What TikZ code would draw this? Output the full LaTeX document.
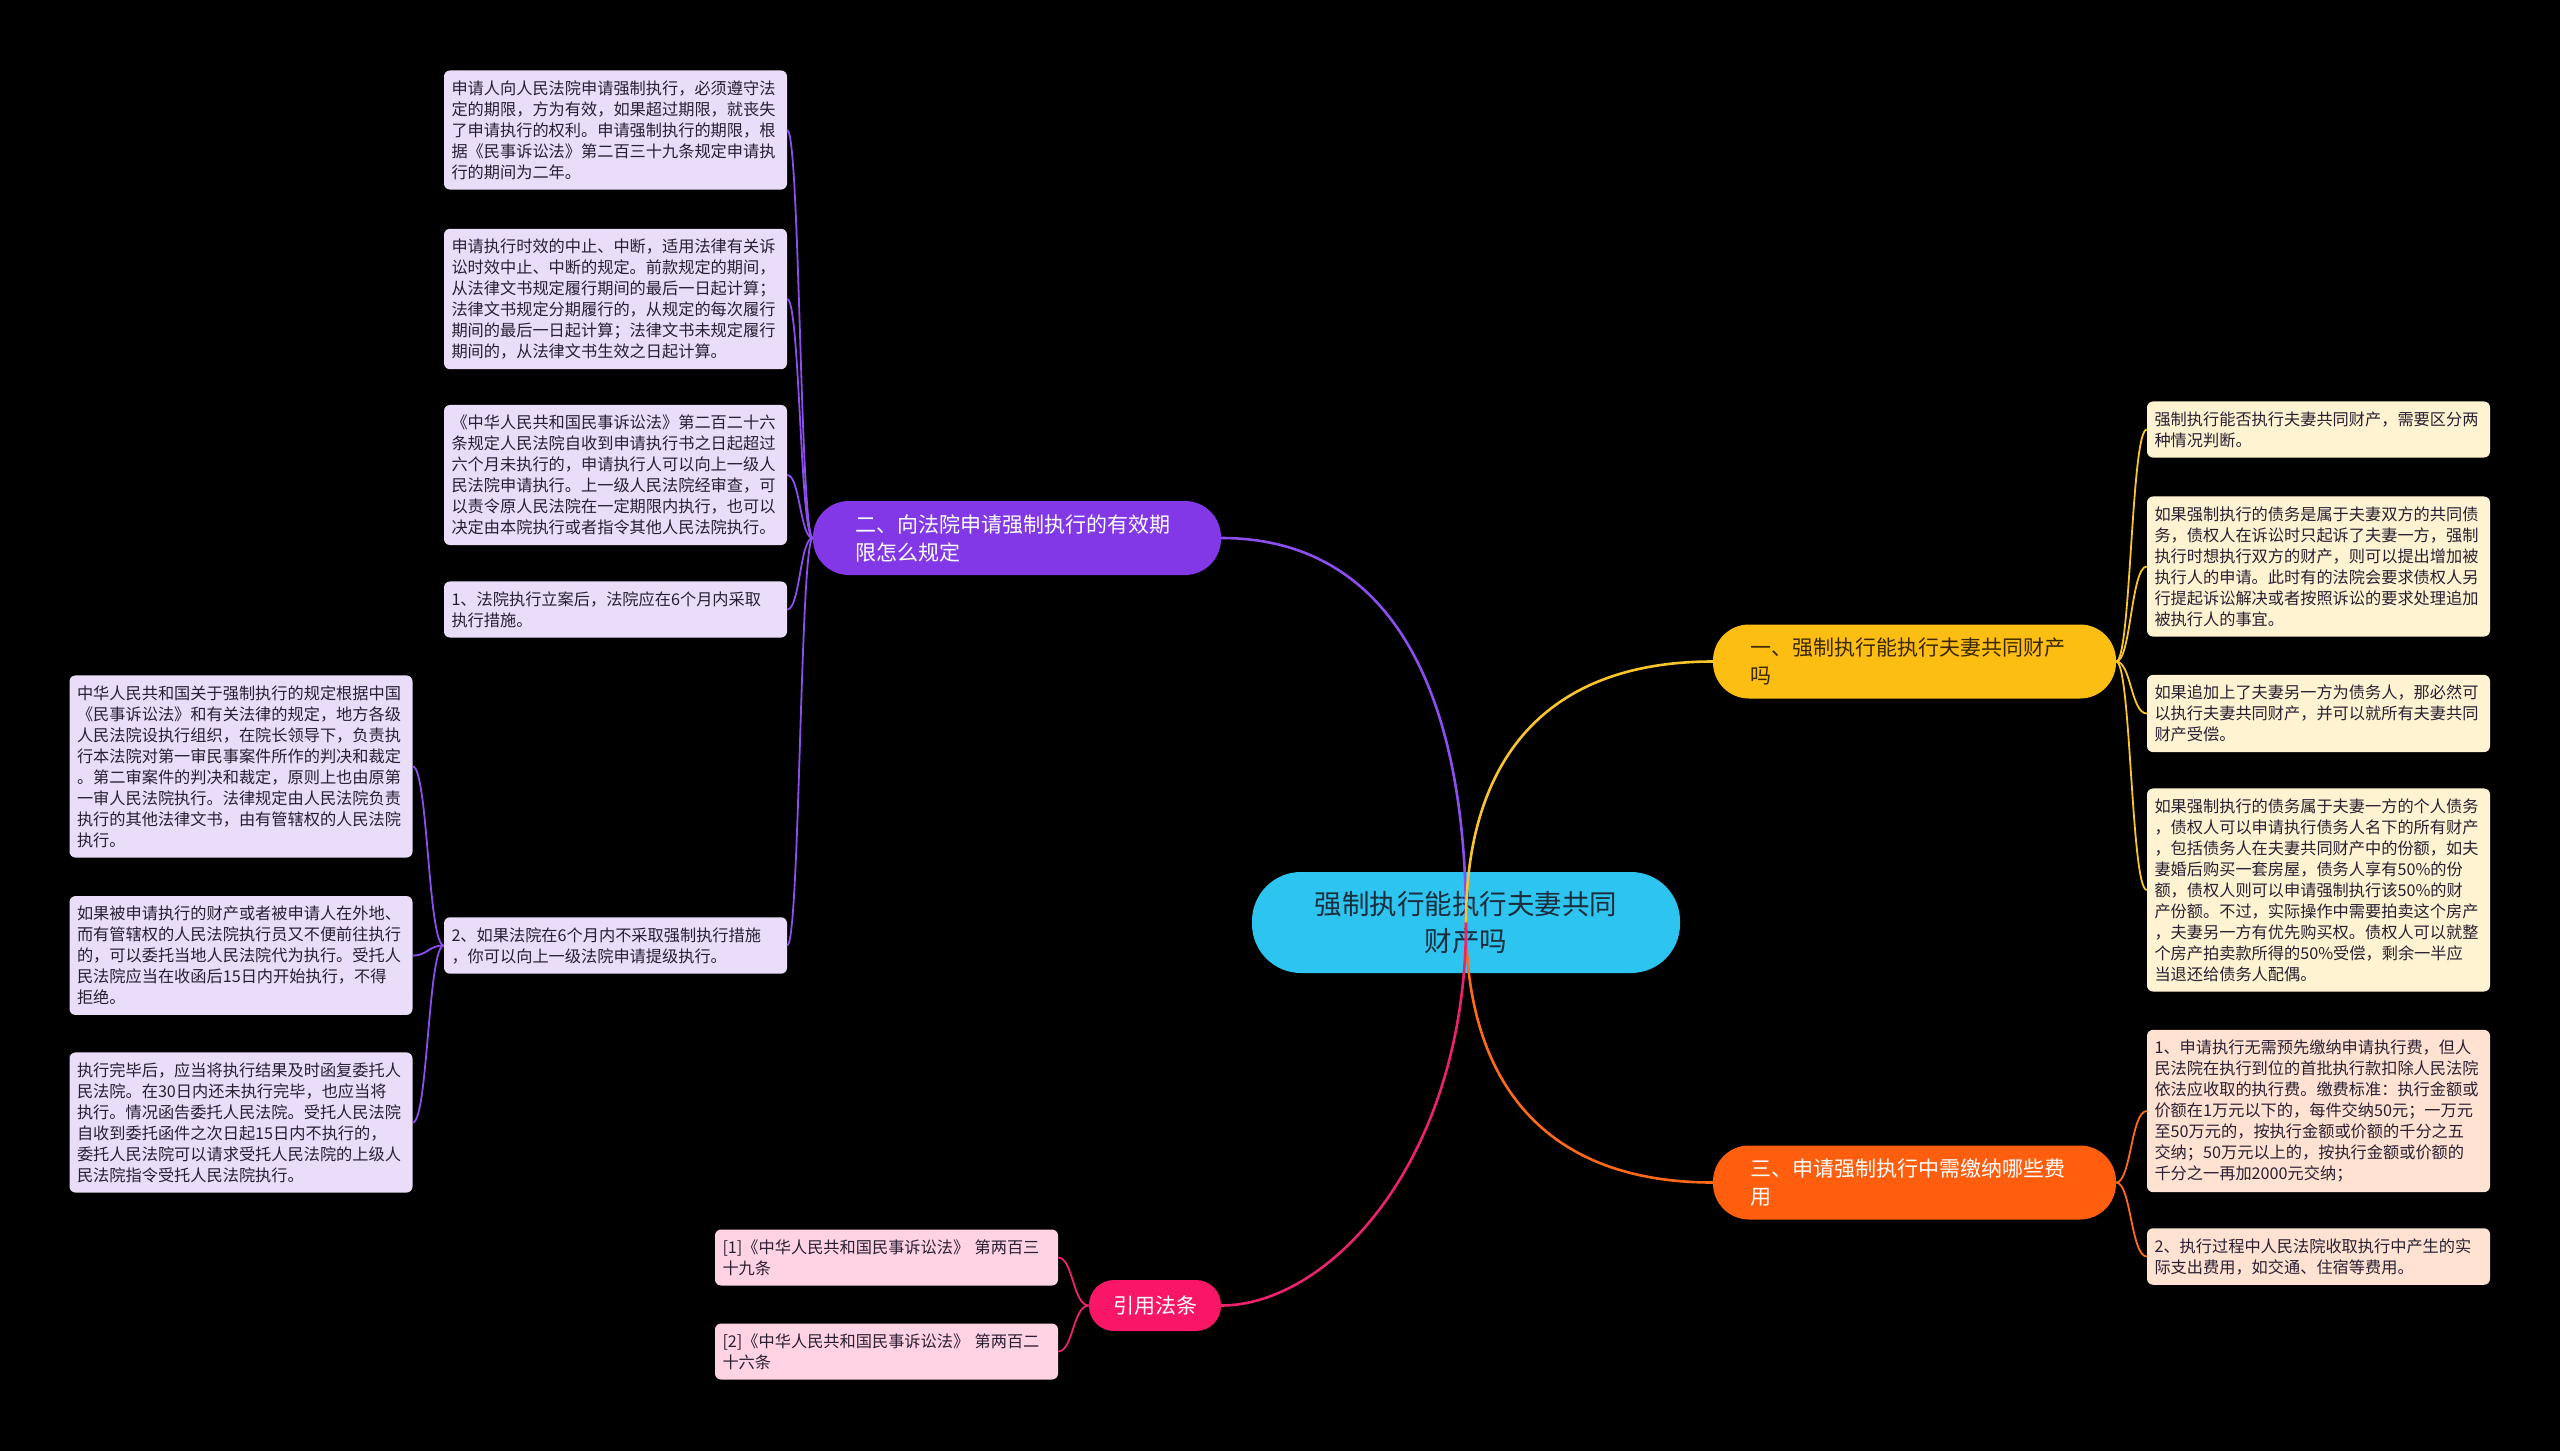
\documentclass[tikz,border=0pt]{standalone}
\usepackage{fontspec}
\setmainfont{Noto Sans CJK SC}
\usetikzlibrary{calc}
\definecolor{rootfill}{RGB}{46,196,240}
\definecolor{roottext}{RGB}{25,45,60}
\definecolor{purp}{RGB}{130,56,230}
\definecolor{purpline}{RGB}{140,78,238}
\definecolor{yel}{RGB}{253,190,20}
\definecolor{yelline}{RGB}{249,197,42}
\definecolor{yeltext}{RGB}{60,40,0}
\definecolor{ora}{RGB}{255,94,14}
\definecolor{oraline}{RGB}{255,106,26}
\definecolor{pnk}{RGB}{250,22,102}
\definecolor{pnkline}{RGB}{236,34,110}
\definecolor{plight}{RGB}{233,221,250}
\definecolor{ylight}{RGB}{255,243,210}
\definecolor{olight}{RGB}{255,226,210}
\definecolor{klight}{RGB}{255,211,228}
\definecolor{leaftext}{RGB}{40,32,50}
\tikzset{
  leaf/.style={rounded corners=6pt, text width=328pt, inner xsep=7.5pt, inner ysep=10pt,
    align=left, font=\fontsize{16.2}{21}\selectfont, text=leaftext},
  pleaf/.style={leaf, fill=plight},
  yleaf/.style={leaf, fill=ylight},
  oleaf/.style={leaf, fill=olight},
  kleaf/.style={leaf, fill=klight},
  branch/.style={rounded corners=36pt, minimum height=74pt, align=left,
    font=\fontsize{21}{28}\selectfont},
  rootc/.style={line width=2.6pt},
  leafc/.style={line width=1.8pt}
}
\begin{document}
\begin{tikzpicture}[x=1pt,y=-1pt]
\useasboundingbox (0,0) rectangle (2560,1451);
\fill[black] (0,0) rectangle (2560,1451);

% root
\node[fill=rootfill, text=roottext, rounded corners=49pt, minimum width=428pt, minimum height=101pt,
  text width=330pt, inner xsep=49pt, align=center, font=\fontsize{27.5}{37.5}\selectfont]
  (root) at (1466,922.5) {强制执行能执行夫妻共同\\财产吗};
\coordinate (rc) at (1466,922.5);

% branches
\node[branch, fill=purp, text=white, text width=324pt, inner xsep=42pt, minimum width=408pt]
  (b2) at (1017,538) {二、向法院申请强制执行的有效期\\限怎么规定};
\node[branch, fill=yel, text=yeltext, text width=329pt, inner xsep=37pt, minimum width=403pt]
  (b1) at (1914.5,661.5) {一、强制执行能执行夫妻共同财产\\吗};
\node[branch, fill=ora, text=white, text width=329pt, inner xsep=37pt, minimum width=403pt]
  (b3) at (1914.5,1182.5) {三、申请强制执行中需缴纳哪些费\\用};
\node[fill=pnk, text=white, rounded corners=25pt, minimum width=132pt, minimum height=51pt,
  font=\fontsize{21}{28}\selectfont] (b4) at (1155,1305.5) {引用法条};

% root connectors
\draw[rootc, purpline] (rc) .. controls (1466,686) and (1388,538) .. (b2.east);
\draw[rootc, yelline] (rc) .. controls (1466,760) and (1545,661.5) .. (b1.west);
\draw[rootc, oraline] (rc) .. controls (1466,1083) and (1545,1182.5) .. (b3.west);
\draw[rootc, pnkline] (rc) .. controls (1466,1159) and (1330,1305.5) .. (b4.east);

% purple leaves
\node[pleaf] (a1) at (615.5,130) {申请人向人民法院申请强制执行，必须遵守法\\定的期限，方为有效，如果超过期限，就丧失\\了申请执行的权利。申请强制执行的期限，根\\据《民事诉讼法》第二百三十九条规定申请执\\行的期间为二年。};
\node[pleaf] (a2) at (615.5,299) {申请执行时效的中止、中断，适用法律有关诉\\讼时效中止、中断的规定。前款规定的期间，\\从法律文书规定履行期间的最后一日起计算；\\法律文书规定分期履行的，从规定的每次履行\\期间的最后一日起计算；法律文书未规定履行\\期间的，从法律文书生效之日起计算。};
\node[pleaf] (a3) at (615.5,475) {《中华人民共和国民事诉讼法》第二百二十六\\条规定人民法院自收到申请执行书之日起超过\\六个月未执行的，申请执行人可以向上一级人\\民法院申请执行。上一级人民法院经审查，可\\以责令原人民法院在一定期限内执行，也可以\\决定由本院执行或者指令其他人民法院执行。};
\node[pleaf] (a4) at (615.5,609.5) {1、法院执行立案后，法院应在6个月内采取\\执行措施。};
\node[pleaf] (a5) at (615.5,945.5) {2、如果法院在6个月内不采取强制执行措施\\，你可以向上一级法院申请提级执行。};

\node[pleaf] (c1) at (241,766.5) {中华人民共和国关于强制执行的规定根据中国\\《民事诉讼法》和有关法律的规定，地方各级\\人民法院设执行组织，在院长领导下，负责执\\行本法院对第一审民事案件所作的判决和裁定\\。第二审案件的判决和裁定，原则上也由原第\\一审人民法院执行。法律规定由人民法院负责\\执行的其他法律文书，由有管辖权的人民法院\\执行。};
\node[pleaf] (c2) at (241,955.5) {如果被申请执行的财产或者被申请人在外地、\\而有管辖权的人民法院执行员又不便前往执行\\的，可以委托当地人民法院代为执行。受托人\\民法院应当在收函后15日内开始执行，不得\\拒绝。};
\node[pleaf] (c3) at (241,1122.5) {执行完毕后，应当将执行结果及时函复委托人\\民法院。在30日内还未执行完毕，也应当将\\执行。情况函告委托人民法院。受托人民法院\\自收到委托函件之次日起15日内不执行的，\\委托人民法院可以请求受托人民法院的上级人\\民法院指令受托人民法院执行。};

% yellow leaves
\node[yleaf] (r1) at (2318.5,429.5) {强制执行能否执行夫妻共同财产，需要区分两\\种情况判断。};
\node[yleaf] (r2) at (2318.5,566.5) {如果强制执行的债务是属于夫妻双方的共同债\\务，债权人在诉讼时只起诉了夫妻一方，强制\\执行时想执行双方的财产，则可以提出增加被\\执行人的申请。此时有的法院会要求债权人另\\行提起诉讼解决或者按照诉讼的要求处理追加\\被执行人的事宜。};
\node[yleaf] (r3) at (2318.5,713.5) {如果追加上了夫妻另一方为债务人，那必然可\\以执行夫妻共同财产，并可以就所有夫妻共同\\财产受偿。};
\node[yleaf] (r4) at (2318.5,890) {如果强制执行的债务属于夫妻一方的个人债务\\，债权人可以申请执行债务人名下的所有财产\\，包括债务人在夫妻共同财产中的份额，如夫\\妻婚后购买一套房屋，债务人享有50\%的份\\额，债权人则可以申请强制执行该50\%的财\\产份额。不过，实际操作中需要拍卖这个房产\\，夫妻另一方有优先购买权。债权人可以就整\\个房产拍卖款所得的50\%受偿，剩余一半应\\当退还给债务人配偶。};

% orange leaves
\node[oleaf] (r5) at (2318.5,1111) {1、申请执行无需预先缴纳申请执行费，但人\\民法院在执行到位的首批执行款扣除人民法院\\依法应收取的执行费。缴费标准：执行金额或\\价额在1万元以下的，每件交纳50元；一万元\\至50万元的，按执行金额或价额的千分之五\\交纳；50万元以上的，按执行金额或价额的\\千分之一再加2000元交纳；};
\node[oleaf] (r6) at (2318.5,1256.5) {2、执行过程中人民法院收取执行中产生的实\\际支出费用，如交通、住宿等费用。};

% pink leaves
\node[kleaf] (k1) at (886.5,1257.5) {[1]《中华人民共和国民事诉讼法》 第两百三\\十九条};
\node[kleaf] (k2) at (886.5,1351.5) {[2]《中华人民共和国民事诉讼法》 第两百二\\十六条};

% leaf connectors
\coordinate (mA) at (800,0);
\coordinate (mB) at (428,0);
\coordinate (mR) at (2131,0);
\coordinate (mK) at (1073,0);
\foreach \c in {a1,a2,a3,a4,a5}
  \draw[leafc, purpline] (b2.west) .. controls (b2.west -| mA) and (\c.east -| mA) .. (\c.east);
\foreach \c in {c1,c2,c3}
  \draw[leafc, purpline] (a5.west) .. controls (a5.west -| mB) and (\c.east -| mB) .. (\c.east);
\foreach \c in {r1,r2,r3,r4}
  \draw[leafc, yelline] (b1.east) .. controls (b1.east -| mR) and (\c.west -| mR) .. (\c.west);
\foreach \c in {r5,r6}
  \draw[leafc, oraline] (b3.east) .. controls (b3.east -| mR) and (\c.west -| mR) .. (\c.west);
\foreach \c in {k1,k2}
  \draw[leafc, pnkline] (b4.west) .. controls (b4.west -| mK) and (\c.east -| mK) .. (\c.east);
\end{tikzpicture}
\end{document}
